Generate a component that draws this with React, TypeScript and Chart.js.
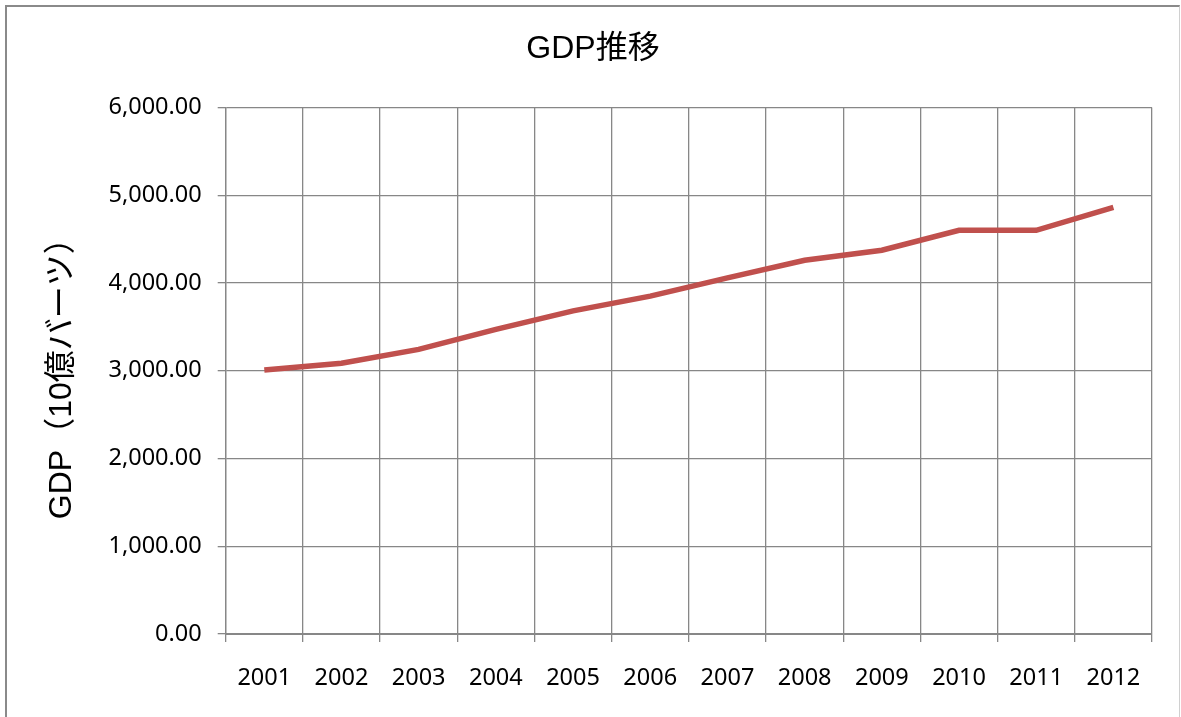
import React, { useEffect, useRef } from "react";
import { Chart, registerables } from "chart.js";

Chart.register(...registerables);

const years = ["2001", "2002", "2003", "2004", "2005", "2006", "2007", "2008", "2009", "2010", "2011", "2012"];
const gdp = [3008, 3084, 3243, 3470, 3682, 3850, 4057, 4258, 4372, 4599, 4599, 4860];
const chartTitle = "GDP推移";
const yTitle = "GDP（10億バーツ）";

const CANVAS_W = 1172;
const CANVAS_H = 710;

export default function App() {
  const ref = useRef<HTMLCanvasElement | null>(null);

  useEffect(() => {
    if (!ref.current) return;
    const chart = new Chart(ref.current, {
      type: "line",
      data: {
        labels: years,
        datasets: [
          {
            data: gdp,
            borderColor: "#c0504d",
            borderWidth: 5.5,
            pointRadius: 0,
            pointHoverRadius: 0,
            tension: 0,
            fill: false,
          },
        ],
      },
      options: {
        responsive: false,
        animation: false,
        events: [],
        layout: { padding: 0 },
        plugins: {
          legend: { display: false },
          tooltip: { enabled: false },
          title: {
            display: true,
            text: chartTitle,
            color: "#000",
            font: { family: "'Liberation Sans', 'Noto Sans CJK JP', sans-serif", size: 32, weight: "normal" },
            padding: { top: 23, bottom: 39 },
          },
        },
        scales: {
          x: {
            type: "category",
            offset: true,
            grid: {
              offset: true,
              color: "#878787",
              lineWidth: 1.3,
              tickLength: 8,
              drawTicks: true,
            },
            border: { color: "#878787", width: 2 },
            ticks: {
              color: "#000",
              padding: 22,
              maxRotation: 0,
              font: { family: "'Noto Sans', sans-serif", size: 23.5 },
            },
            afterFit: (scale: any) => {
              scale.height = 83;
            },
          },
          y: {
            min: 0,
            max: 6000,
            grid: {
              color: "#878787",
              lineWidth: 1.3,
              tickLength: 8,
            },
            border: { color: "#878787", width: 1.3 },
            ticks: {
              stepSize: 1000,
              color: "#000",
              padding: 16,
              font: { family: "'Noto Sans', sans-serif", size: 23.5 },
              callback: (v: any) =>
                Number(v).toLocaleString("en-US", { minimumFractionDigits: 2, maximumFractionDigits: 2 }),
            },
            title: {
              display: true,
              text: yTitle,
              color: "#000",
              font: { family: "'Liberation Sans', 'Noto Sans CJK JP', sans-serif", size: 32, weight: "normal" },
              padding: { top: 36, bottom: 0 },
            },
            afterFit: (scale: any) => {
              scale.width = 218.7;
            },
          },
          yRight: {
            position: "right",
            display: true,
            min: 0,
            max: 1,
            grid: { display: false, drawTicks: false },
            border: { display: false },
            ticks: { display: false },
            afterFit: (scale: any) => {
              scale.width = 27;
            },
          },
        },
      },
    });
    return () => chart.destroy();
  }, []);

  return (
    <div
      style={{
        position: "absolute",
        left: 5,
        top: 5,
        width: CANVAS_W,
        height: CANVAS_H + 10,
        borderLeft: "2px solid #8a8a8a",
        borderTop: "2px solid #8a8a8a",
        borderRight: "1px solid #d0d0d0",
        background: "#fff",
        overflow: "hidden",
      }}
    >
      <canvas ref={ref} width={CANVAS_W} height={CANVAS_H} style={{ display: "block" }} />
    </div>
  );
}
